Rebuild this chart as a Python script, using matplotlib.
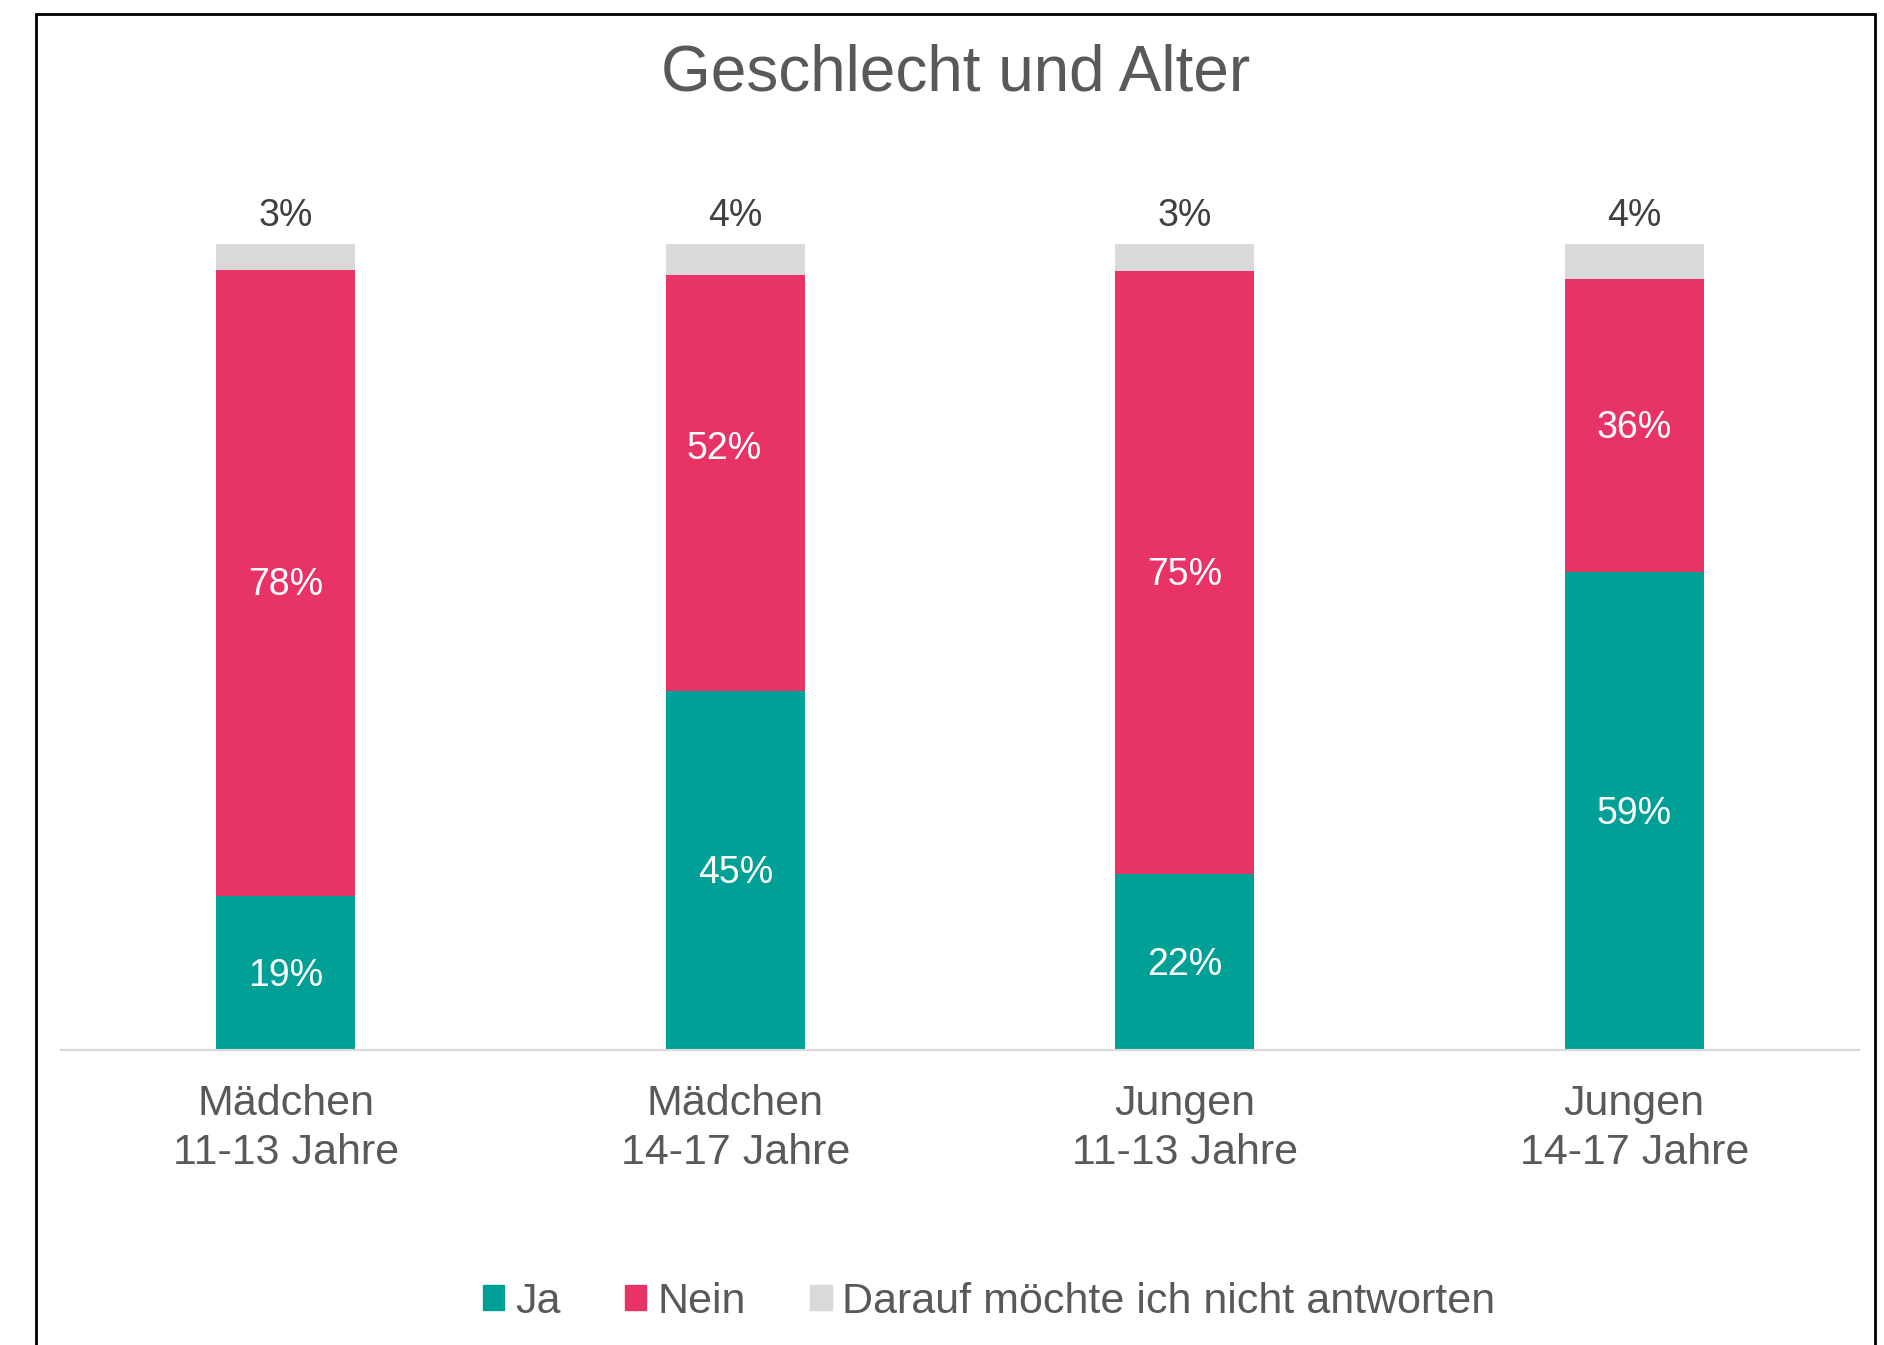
import numpy as np
from matplotlib import pyplot as plt
from matplotlib.patches import Patch, Rectangle

plt.rcParams['font.family'] = ['Liberation Sans', 'DejaVu Sans']

categories = ['Mädchen\n11-13 Jahre', 'Mädchen\n14-17 Jahre',
              'Jungen\n11-13 Jahre', 'Jungen\n14-17 Jahre']
ja = [19.2, 44.6, 21.9, 59.3]
nein = [77.6, 51.6, 74.7, 36.4]
keine = [3.2, 3.8, 3.4, 4.3]
series_names = ['Ja', 'Nein', 'Darauf möchte ich nicht antworten']
colors = ['#00A096', '#E83366', '#D9D9D9']


def main():
    fig, ax = setup_figure()
    x = np.arange(len(categories))
    bottom = np.zeros(len(categories))
    bars = []
    for vals, c in zip([ja, nein, keine], colors):
        b = ax.bar(x, vals, width=0.31, bottom=bottom, color=c, zorder=2)
        bars.append(b)
        bottom = bottom + np.array(vals)
    t1 = ax.bar_label(bars[0], labels=['%.0f%%' % v for v in ja], label_type='center',
                      color='white', size=27)
    t2 = ax.bar_label(bars[1], labels=['%.0f%%' % v for v in nein], label_type='center',
                      color='white', size=27)
    for t in t1 + t2:
        t.xyann = (0, -2)
    # the 52% label sits a bit off centre in the original
    t2[1].xyann = (-8, 24)
    ax.bar_label(bars[2], labels=['%.0f%%' % v for v in keine], label_type='edge',
                 color='#404040', size=27, padding=7)
    ax.set_xticks(x)
    ax.set_xticklabels(categories, linespacing=1.3)
    handles = [Patch(color=c) for c in colors]
    fig.legend(handles, series_names, loc='center', bbox_to_anchor=(0.525, 0.032),
               ncol=3, frameon=False, fontsize=31, handlelength=0.5, handleheight=0.5,
               handletextpad=0.25, columnspacing=1.5, labelcolor='#595959')
    fig.savefig('out.png', dpi=100)


def setup_figure():
    fig = plt.figure(figsize=(18.84, 13.45), dpi=100)
    ax = fig.add_axes([0.0324, 0.219, 0.9543, 0.5996])
    # black frame round the chart, open at the bottom
    fig.patches.append(Rectangle((36 / 1884, -0.05), (1875 - 36) / 1884, 1.05 - 14 / 1345,
                                 transform=fig.transFigure, fill=False, ec='black', lw=2))
    fig.text(0.507, 0.945, 'Geschlecht und Alter', ha='center', va='center',
             size=46, color='#595959')
    ax.set_xlim(-0.5, 3.5)
    ax.set_ylim(0, 100)
    for s in ['top', 'right', 'left']:
        ax.spines[s].set_visible(False)
    ax.spines['bottom'].set_color('#D9D9D9')
    ax.spines['bottom'].set_linewidth(1.5)
    ax.set_yticks([])
    ax.tick_params(axis='x', length=0, pad=24, labelsize=31, labelcolor='#595959')
    return fig, ax


main()
